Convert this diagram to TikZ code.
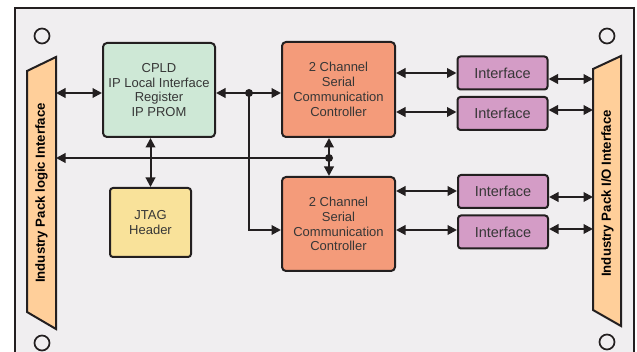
\documentclass[tikz,border=0pt]{standalone}
\usepackage{fontspec}
\setmainfont{Liberation Sans}
\usetikzlibrary{arrows.meta,calc}
\definecolor{bgc}{RGB}{240,238,240}
\definecolor{linec}{RGB}{35,31,32}
\definecolor{txtc}{RGB}{55,55,55}
\definecolor{greenc}{RGB}{206,232,214}
\definecolor{orangec}{RGB}{244,155,122}
\definecolor{violetc}{RGB}{212,156,198}
\definecolor{yellowc}{RGB}{249,226,154}
\definecolor{trapc}{RGB}{255,207,154}
\tikzset{
  blk/.style={draw=linec, line width=2pt, rounded corners=4pt, align=center,
    text=txtc, font=\fontsize{13}{14.8}\selectfont, inner sep=0pt},
  ifc/.style={blk, fill=violetc, minimum width=90pt, minimum height=33pt,
    rounded corners=3pt, font=\fontsize{14.5}{15}\selectfont},
  tip/.style={Triangle[length=9.5pt,width=9.5pt]},
  dbl/.style={draw=linec, line width=2pt, {Triangle[length=9.5pt,width=9.5pt]}-{Triangle[length=9.5pt,width=9.5pt]}},
  sgl/.style={draw=linec, line width=2pt, -{Triangle[length=9.5pt,width=9.5pt]}},
  lft/.style={draw=linec, line width=2pt, {Triangle[length=9.5pt,width=9.5pt]}-},
  junct/.style={circle, fill=linec, inner sep=0pt, minimum size=8pt},
  hole/.style={circle, draw=linec, line width=1.7pt, fill=bgc, inner sep=0pt, minimum size=15pt},
  trap/.style={draw=linec, line width=2pt, fill=trapc},
  traptext/.style={rotate=90, font=\bfseries\fontsize{13.2}{14}\selectfont, text=black}
}
\begin{document}
\begin{tikzpicture}[x=1pt,y=-1pt]
\useasboundingbox (0,0) rectangle (637,352);
\fill[white] (0,0) rectangle (637,352);
\begin{scope}
\clip (0,0) rectangle (637,352);
\draw[draw=linec, line width=2pt, fill=bgc] (15,8) rectangle (634,370);
\end{scope}
% holes
\node[hole] (h1) at (42,36) {};
\node[hole] (h2) at (607,36) {};
\node[hole] (h3) at (42,343) {};
\node[hole] (h4) at (607,342) {};
% trapezoids
\draw[trap] (27,71) -- (56,57) -- (56,329) -- (27,312) -- cycle;
\draw[trap] (593,69) -- (621,56) -- (621,326) -- (593,310) -- cycle;
\node[traptext] (ltxt) at (41.5,193) {Industry Pack logic Interface};
\node[traptext] (rtxt) at (607.5,193.5) {Industry Pack I/O Interface};
% blocks
\node[blk, fill=greenc, minimum width=112pt, minimum height=94pt] (cpld) at (159,90)
  {CPLD\\IP Local Interface\\Register\\IP PROM};
\node[blk, fill=orangec, minimum width=113pt, minimum height=95pt] (sct) at (338.5,89.5)
  {2 Channel\\Serial\\Communication\\Controller};
\node[blk, fill=orangec, minimum width=113pt, minimum height=94pt] (scb) at (338.5,224)
  {2 Channel\\Serial\\Communication\\Controller};
\node[blk, fill=yellowc, minimum width=81pt, minimum height=69pt, rounded corners=3pt] (jtag) at (150.5,222.5)
  {JTAG\\Header};
\node[ifc] (it1) at (502.5,73) {Interface};
\node[ifc] (it2) at (502.5,113.5) {Interface};
\node[ifc] (ib1) at (503,191.5) {Interface};
\node[ifc] (ib2) at (503,232) {Interface};
% coordinates
\coordinate (L1) at (56,93);
\coordinate (L2) at (56,158);
\coordinate (R1) at (593,79);
\coordinate (R2) at (593,110);
\coordinate (R3) at (593,197);
\coordinate (R4) at (593,229);
\coordinate (A1) at (sct.east |- 0,73);
\coordinate (A2) at (sct.east |- 0,112);
\coordinate (B1) at (scb.east |- 0,191);
\coordinate (B2) at (scb.east |- 0,230);
\coordinate (C1) at (scb.west |- 0,230);
\node[junct] (J1) at (249,93) {};
\node[junct] (J2) at (329,158) {};
% connectors
\draw[dbl] (L1) -- (L1 -| cpld.west);
\draw[dbl] (cpld.east |- J1) -- (J1.center -| sct.west);
\draw[sgl] (J1.center) |- (C1);
\draw[lft] (L2) -- (J2.center);
\draw[dbl] (sct.south -| J2) -- (scb.north -| J2);
\draw[dbl] (cpld.south -| jtag) -- (jtag.north);
\draw[dbl] (A1) -- (A1 -| it1.west);
\draw[dbl] (A2) -- (A2 -| it2.west);
\draw[dbl] (R1 -| it1.east) -- (R1);
\draw[dbl] (R2 -| it2.east) -- (R2);
\draw[dbl] (B1) -- (B1 -| ib1.west);
\draw[dbl] (B2) -- (B2 -| ib2.west);
\draw[dbl] (R3 -| ib1.east) -- (R3);
\draw[dbl] (R4 -| ib2.east) -- (R4);
\end{tikzpicture}
\end{document}
